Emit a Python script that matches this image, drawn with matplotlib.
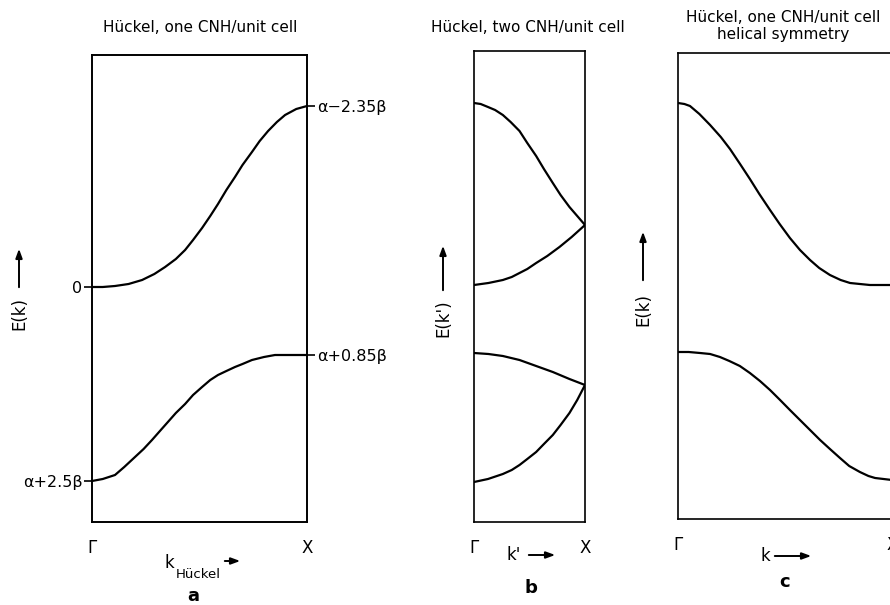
import numpy as np
import matplotlib.pyplot as plt

plt.rcParams['font.family'] = ['DejaVu Sans']
plt.rcParams['font.size'] = 9

W, H = 890, 605

# energies in arbitrary units (0 = alpha, up = higher energy), k from Gamma (0) to X (1)
# panel a: Hückel, one CNH/unit cell
k_a_up = [0, 0.05, 0.107, 0.17, 0.233, 0.29, 0.34, 0.39, 0.433, 0.47, 0.512, 0.55, 0.586,
          0.625, 0.665, 0.70, 0.744, 0.78, 0.819, 0.86, 0.898, 0.95, 1.0]
E_a_up = [0, 0, 0.01, 0.03, 0.07, 0.13, 0.20, 0.28, 0.37, 0.47, 0.59, 0.71, 0.83,
          0.97, 1.10, 1.22, 1.35, 1.46, 1.56, 1.65, 1.72, 1.78, 1.81]
k_a_lo = [0, 0.05, 0.107, 0.15, 0.2, 0.24, 0.279, 0.32, 0.353, 0.39, 0.433, 0.47, 0.512,
          0.55, 0.586, 0.625, 0.665, 0.70, 0.744, 0.8, 0.851, 1.0]
E_a_lo = [-1.94, -1.92, -1.88, -1.80, -1.70, -1.62, -1.53, -1.43, -1.35, -1.26, -1.17, -1.08, -1.00,
          -0.93, -0.88, -0.84, -0.80, -0.77, -0.73, -0.70, -0.68, -0.68]
a_left_ticks = [0, -1.94]
a_left_labels = ['0', 'α+2.5β']
a_right_ticks = [1.81, -0.68]
a_right_labels = ['α−2.35β', 'α+0.85β']

# panel b: Hückel, two CNH/unit cell (folded bands)
k_b1 = [0, 0.06, 0.126, 0.19, 0.26, 0.33, 0.41, 0.48, 0.56, 0.63, 0.71, 0.78, 0.86, 0.93, 1.0]
E_b1 = [1.84, 1.83, 1.80, 1.77, 1.72, 1.65, 1.56, 1.44, 1.31, 1.18, 1.04, 0.92, 0.80, 0.71, 0.62]
k_b2 = [0, 0.13, 0.26, 0.34, 0.41, 0.48, 0.56, 0.66, 0.77, 0.88, 1.0]
E_b2 = [0.02, 0.04, 0.07, 0.10, 0.14, 0.18, 0.24, 0.31, 0.40, 0.50, 0.62]
k_b3 = [0, 0.13, 0.26, 0.41, 0.56, 0.71, 0.86, 1.0]
E_b3 = [-0.66, -0.67, -0.69, -0.73, -0.79, -0.85, -0.92, -0.98]
k_b4 = [0, 0.126, 0.26, 0.34, 0.41, 0.48, 0.56, 0.63, 0.71, 0.78, 0.86, 0.93, 1.0]
E_b4 = [-1.95, -1.92, -1.87, -1.83, -1.78, -1.72, -1.65, -1.57, -1.48, -1.38, -1.26, -1.13, -0.98]

# panel c: Hückel, one CNH/unit cell, helical symmetry
k_c_up = [0, 0.03, 0.056, 0.10, 0.15, 0.2, 0.243, 0.29, 0.336, 0.38, 0.43, 0.475, 0.523,
          0.57, 0.617, 0.66, 0.71, 0.76, 0.804, 0.85, 0.897, 1.0]
E_c_up = [1.84, 1.83, 1.81, 1.73, 1.62, 1.50, 1.38, 1.23, 1.08, 0.93, 0.77, 0.63, 0.49,
          0.37, 0.27, 0.19, 0.12, 0.07, 0.04, 0.03, 0.02, 0.02]
k_c_lo = [0, 0.05, 0.103, 0.15, 0.196, 0.24, 0.289, 0.336, 0.383, 0.43, 0.477, 0.523,
          0.570, 0.617, 0.664, 0.71, 0.757, 0.80, 0.850, 0.89, 0.921, 1.0]
E_c_lo = [-0.65, -0.65, -0.66, -0.67, -0.70, -0.74, -0.79, -0.86, -0.94, -1.03, -1.13, -1.23,
          -1.33, -1.43, -1.53, -1.62, -1.71, -1.79, -1.85, -1.89, -1.91, -1.93]

LW = 1.6


def fpos(x, y):
    return (x / W, 1 - y / H)


def make_ax(left, top, right, bottom):
    ax = fig.add_axes([left / W, 1 - bottom / H, (right - left) / W, (bottom - top) / H])
    # zero of energy sits at pixel row 287, 100 px per unit
    ax.set_ylim((287 - bottom) / 100, (287 - top) / 100)
    ax.set_xlim(0, 1)
    for s in ax.spines.values():
        s.set_linewidth(1.2)
    ax.set_yticks([])
    ax.set_xticks([0, 1])
    ax.set_xticklabels(['Γ', 'X'], fontsize=12)
    ax.tick_params(axis='x', length=0, pad=12)
    return ax


fig = plt.figure(figsize=(W / 100, H / 100), dpi=100)

# ---- panel a
ax1 = make_ax(92, 55, 307, 522)
ax1.plot(k_a_up, E_a_up, color='black', lw=LW)
ax1.plot(k_a_lo, E_a_lo, color='black', lw=LW)
ax1.set_yticks(a_left_ticks)
ax1.set_yticklabels(a_left_labels, fontsize=11.5)
ax1.tick_params(axis='y', direction='out', length=6, width=1.2, pad=1)
axr = ax1.twinx()
axr.set_ylim(ax1.get_ylim())
axr.set_yticks(a_right_ticks)
axr.set_yticklabels(a_right_labels, fontsize=11.5)
axr.tick_params(axis='y', direction='out', length=6, width=1.2, pad=1)
for s in axr.spines.values():
    s.set_linewidth(1.2)

# ---- panel b
ax2 = make_ax(474, 51, 585, 522)
for kk, ee in [(k_b1, E_b1), (k_b2, E_b2), (k_b3, E_b3), (k_b4, E_b4)]:
    ax2.plot(kk, ee, color='black', lw=LW)

# ---- panel c
ax3 = make_ax(678, 53, 892, 519)
ax3.plot(k_c_up, E_c_up, color='black', lw=LW)
ax3.plot(k_c_lo, E_c_lo, color='black', lw=LW)

# titles
tfs = 11
fig.text(*fpos(200, 28), 'Hückel, one CNH/unit cell', ha='center', va='center', fontsize=tfs)
fig.text(*fpos(528, 28), 'Hückel, two CNH/unit cell', ha='center', va='center', fontsize=tfs)
fig.text(*fpos(783, 18), 'Hückel, one CNH/unit cell', ha='center', va='center', fontsize=tfs)
fig.text(*fpos(783, 35), 'helical symmetry', ha='center', va='center', fontsize=tfs)

arrow = dict(arrowstyle='-|>,head_length=0.6,head_width=0.22', lw=1.4, color='black')

# E(k) axis labels with upward arrows
for x, ylab, lab, y0, y1 in [(19, 313, 'E(k)', 290, 246),
                              (443, 318, "E(k')", 293, 243),
                              (643, 309, 'E(k)', 283, 229)]:
    fig.text(*fpos(x, ylab), lab, rotation=90, ha='center', va='center', fontsize=12)
    fig.add_artist(plt.Annotation('', xy=fpos(x, y1), xytext=fpos(x, y0),
                                  xycoords='figure fraction', textcoords='figure fraction',
                                  arrowprops=arrow))

# k labels with right arrows
fig.text(*fpos(165, 563), 'k', ha='left', va='center', fontsize=12)
fig.text(*fpos(176, 574), 'Hückel', ha='left', va='center', fontsize=9.5)
fig.text(*fpos(506, 555), "k'", ha='left', va='center', fontsize=12)
fig.text(*fpos(760, 556), 'k', ha='left', va='center', fontsize=12)
for x0, x1, y in [(222, 243, 561), (526, 558, 555), (772, 814, 556)]:
    fig.add_artist(plt.Annotation('', xy=fpos(x1, y), xytext=fpos(x0, y),
                                  xycoords='figure fraction', textcoords='figure fraction',
                                  arrowprops=arrow))

# panel letters
fig.text(*fpos(193, 596), 'a', ha='center', va='center', fontsize=13, fontweight='bold')
fig.text(*fpos(531, 588), 'b', ha='center', va='center', fontsize=13, fontweight='bold')
fig.text(*fpos(785, 582), 'c', ha='center', va='center', fontsize=13, fontweight='bold')

fig.savefig('out.png', dpi=100)
